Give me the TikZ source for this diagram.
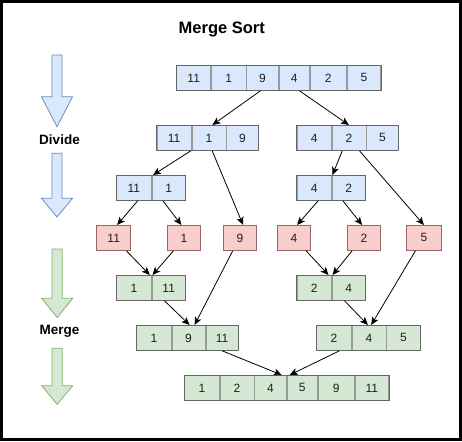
\documentclass[tikz,border=0pt]{standalone}
\usepackage{fontspec}
\setmainfont{Liberation Sans}
\usetikzlibrary{arrows.meta,calc}
\definecolor{bfill}{HTML}{DAE8FC}
\definecolor{bstroke}{HTML}{6C8EBF}
\definecolor{gfill}{HTML}{D5E8D4}
\definecolor{gstroke}{HTML}{82B366}
\definecolor{rfill}{HTML}{F8CECC}
\definecolor{rstroke}{HTML}{9A6565}
\definecolor{outl}{HTML}{666666}
\definecolor{divl}{HTML}{9A9A9A}
\begin{document}
\begin{tikzpicture}[x=1pt,y=-1pt,
  cell/.style={rectangle, inner sep=0pt, minimum height=25pt, anchor=north west,
    font=\fontsize{12}{14}\selectfont, text=black!88, line width=0.8pt},
  bcell/.style={cell, fill=bfill, draw=divl},
  gcell/.style={cell, fill=gfill, draw=divl},
  rcell/.style={cell, fill=rfill, draw=rstroke},
  outline/.style={draw=outl, line width=0.9pt},
  conn/.style={draw=black, line width=0.8pt, -{Stealth[length=8pt,width=7pt,inset=2pt]}},
  barrow/.style={fill=bfill, draw=bstroke, line width=0.8pt},
  garrow/.style={fill=gfill, draw=gstroke, line width=0.8pt},
  lbl/.style={font=\fontsize{13.5}{16}\selectfont\bfseries, text=black},
  ttl/.style={font=\fontsize{16.5}{20}\selectfont\bfseries, text=black}]
\useasboundingbox (0,0) rectangle (462,441);
\fill[black] (0,0) rectangle (462,441);
\fill[white] (3,3) rectangle (459,438);

\node[ttl] (title) at (221.8,29) {Merge Sort};

% left block arrows
\draw[barrow] (52,55) -- (62,55) -- (62,96.7) -- (72.5,96.7) -- (57,126.7) -- (41.5,96.7) -- (52,96.7) -- cycle;
\node[lbl] (divide) at (59.5,139.5) {Divide};
\draw[barrow] (52,153.3) -- (62,153.3) -- (62,198.3) -- (72.5,198.3) -- (57,217) -- (41.5,198.3) -- (52,198.3) -- cycle;
\draw[garrow] (52,249) -- (62.3,249) -- (62.3,298.3) -- (72.7,298.3) -- (57.2,317.5) -- (41.7,298.3) -- (52,298.3) -- cycle;
\node[lbl] (merge) at (59.5,331) {Merge};
\draw[garrow] (52,348.3) -- (62.3,348.3) -- (62.3,385.7) -- (72.7,385.7) -- (57.2,404.3) -- (41.7,385.7) -- (52,385.7) -- cycle;

% row 1
\node[bcell, minimum width=34pt] (a1) at (176.3,65) {11};
\node[bcell, minimum width=34.4pt] (a2) at (a1.north east) {1};
\node[bcell, minimum width=31.6pt] (a3) at (a2.north east) {9};
\node[bcell, minimum width=30pt] (a4) at (a3.north east) {4};
\node[bcell, minimum width=36.4pt] (a5) at (a4.north east) {2};
\node[bcell, minimum width=33.6pt] (a6) at (a5.north east) {5};
\draw[outline] (a1.north west) rectangle (a6.south east);

% row 2
\node[bcell, minimum width=34pt] (b1) at (156.7,125) {11};
\node[bcell, minimum width=34pt] (b2) at (b1.north east) {1};
\node[bcell, minimum width=31.6pt] (b3) at (b2.north east) {9};
\draw[outline] (b1.north west) rectangle (b3.south east);
\node[bcell, minimum width=34pt] (e1) at (296.7,125) {4};
\node[bcell, minimum width=34pt] (e2) at (e1.north east) {2};
\node[bcell, minimum width=31.6pt] (e3) at (e2.north east) {5};
\draw[outline] (e1.north west) rectangle (e3.south east);

% row 3
\node[bcell, minimum width=34.4pt] (c1) at (116.3,175) {11};
\node[bcell, minimum width=33.6pt] (c2) at (c1.north east) {1};
\draw[outline] (c1.north west) rectangle (c2.south east);
\node[bcell, minimum width=34pt] (f1) at (296.7,175) {4};
\node[bcell, minimum width=33.6pt] (f2) at (f1.north east) {2};
\draw[outline] (f1.north west) rectangle (f2.south east);

% row 4
\node[rcell, minimum width=34pt] (r1) at (96.3,225) {11};
\node[rcell, minimum width=33.6pt] (r2) at (166.7,225) {1};
\node[rcell, minimum width=33.6pt] (r3) at (222.7,225) {9};
\node[rcell, minimum width=33.6pt] (r4) at (276.7,225) {4};
\node[rcell, minimum width=33.6pt] (r5) at (346.7,225) {2};
\node[rcell, minimum width=34.4pt] (r6) at (406.3,225) {5};

% row 5
\node[gcell, minimum width=34.4pt] (g1) at (116.3,275) {1};
\node[gcell, minimum width=33.6pt] (g2) at (g1.north east) {11};
\draw[outline] (g1.north west) rectangle (g2.south east);
\node[gcell, minimum width=34pt] (j1) at (296.7,275) {2};
\node[gcell, minimum width=33.6pt] (j2) at (j1.north east) {4};
\draw[outline] (j1.north west) rectangle (j2.south east);

% row 6
\node[gcell, minimum width=34.4pt] (h1) at (136.3,325) {1};
\node[gcell, minimum width=33.3pt] (h2) at (h1.north east) {9};
\node[gcell, minimum width=32.3pt] (h3) at (h2.north east) {11};
\draw[outline] (h1.north west) rectangle (h3.south east);
\node[gcell, minimum width=34.4pt] (k1) at (316.3,325) {2};
\node[gcell, minimum width=34pt] (k2) at (k1.north east) {4};
\node[gcell, minimum width=33.6pt] (k3) at (k2.north east) {5};
\draw[outline] (k1.north west) rectangle (k3.south east);

% row 7
\node[gcell, minimum width=34.4pt] (m1) at (184.3,375) {1};
\node[gcell, minimum width=34pt] (m2) at (m1.north east) {2};
\node[gcell, minimum width=31.6pt] (m3) at (m2.north east) {4};
\node[gcell, minimum width=30pt] (m4) at (m3.north east) {5};
\node[gcell, minimum width=36.4pt] (m5) at (m4.north east) {9};
\node[gcell, minimum width=33.6pt] (m6) at (m5.north east) {11};
\draw[outline] (m1.north west) rectangle (m6.south east);

% connectors
\draw[conn] ($(a3.south)+(-2,0)$) -- ($(b2.north)+(3.5,0)$);
\draw[conn] ($(a4.south)+(5.4,0)$) -- (e2.north);
\draw[conn] ($(b1.south east)+(-0.7,0)$) -- ($(c1.north east)+(1.5,0)$);
\draw[conn] ($(b2.south)+(3.3,0)$) -- ($(r3.north)+(3.2,0)$);
\draw[conn] ($(e2.south)+(-6.7,0)$) -- ($(f1.north east)+(1,0)$);
\draw[conn] ($(e2.south)+(10.6,0)$) -- (r6.north);
\draw[conn] ($(c1.south)+(3.8,0)$) -- ($(r1.north)+(3.4,0)$);
\draw[conn] ($(c2.south)+(-5.8,0)$) -- ($(r2.north)+(-2.5,0)$);
\draw[conn] ($(f1.south)+(4,0)$) -- ($(r4.north)+(3.2,0)$);
\draw[conn] ($(f2.south)+(-5.8,0)$) -- ($(r5.north)+(-1.8,0)$);
\draw[conn] ($(r1.south)+(12.7,0)$) -- ($(g1.north east)+(-1.7,0)$);
\draw[conn] ($(r2.south)+(-10.5,0)$) -- ($(g1.north east)+(1,0)$);
\draw[conn] ($(r3.south)+(-7.2,0)$) -- ($(h2.north)+(6,0)$);
\draw[conn] ($(g2.south)+(-4.2,0)$) -- ($(h2.north)+(1,0)$);
\draw[conn] ($(r4.south)+(12.2,0)$) -- ($(j1.north east)+(-3,0)$);
\draw[conn] ($(r5.south)+(-11.8,0)$) -- ($(j1.north east)+(1,0)$);
\draw[conn] ($(r6.south)+(-8.5,0)$) -- ($(k2.north)+(2.3,0)$);
\draw[conn] ($(j2.south)+(-4.2,0)$) -- ($(k2.north)+(-1,0)$);
\draw[conn] (h3.south) -- ($(m3.north east)+(-5,0)$);
\draw[conn] ($(k1.south)+(5.5,0)$) -- ($(m3.north east)+(3,0)$);
\end{tikzpicture}
\end{document}
